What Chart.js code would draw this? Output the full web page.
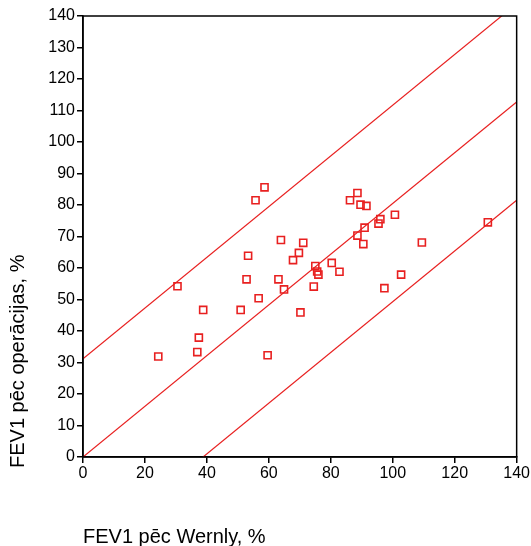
<!DOCTYPE html>
<html>
<head>
<meta charset="utf-8">
<script src="https://cdn.jsdelivr.net/npm/chart.js@4"></script>
<style>
html,body{margin:0;padding:0;background:#fff;}
#wrap{width:531px;height:546px;position:relative;}
</style>
</head>
<body>
<div id="wrap"><canvas id="c" width="531" height="546"></canvas></div>
<script>
// Scatter values
const wernly = [24.3,30.5,36.9,37.4,38.8,50.9,52.8,53.3,55.7,56.7,58.6,59.6,63.1,63.9,64.9,67.8,69.7,70.2,71.1,74.5,75.0,75.6,76.0,80.3,82.8,86.2,88.6,88.6,89.6,90.5,90.9,91.5,95.4,96.0,97.3,100.7,102.7,109.4,130.7];
const operacijas = [31.9,54.2,33.3,37.9,46.7,46.7,56.4,63.9,81.5,50.4,85.6,32.3,56.4,68.9,53.2,62.5,64.8,45.9,68.0,54.1,60.6,58.9,57.9,61.6,58.8,81.5,83.8,70.3,80.1,67.6,72.8,79.7,74.1,75.5,53.6,76.9,57.9,68.1,74.5];
// Reference lines (end points at x = 0 and x = 140)
const lineX = [0, 140];
const midY = [0, 112.7];
const upperY = [31.2, 143.9];
const lowerY = [-31.2, 81.5];
const xTicks = [0,20,40,60,80,100,120,140];
const yTicks = [0,10,20,30,40,50,60,70,80,90,100,110,120,130,140];
const xTitle = 'FEV1 pēc Wernly, %';
const yTitle = 'FEV1 pēc operācijas, %';

const red = 'rgb(232,32,32)';
const pts = wernly.map((v,i)=>({x:v,y:operacijas[i]}));
const mk = ys => lineX.map((v,i)=>({x:v,y:ys[i]}));
const FAM = '"Liberation Sans", Arial, sans-serif';

const frame = {
  id:'frame',
  afterDatasetsDraw(chart){
    const a = chart.chartArea, ctx = chart.ctx;
    ctx.save();
    ctx.strokeStyle='#000'; ctx.lineWidth=1.5;
    ctx.strokeRect(a.left, a.top, a.right-a.left, a.bottom-a.top);
    ctx.restore();
  }
};
const titles = {
  id:'titles',
  afterDraw(chart){
    const a = chart.chartArea, ctx = chart.ctx;
    ctx.save();
    ctx.fillStyle='#000';
    ctx.font = '20px ' + FAM;
    ctx.textBaseline='alphabetic';
    ctx.textAlign='left';
    ctx.fillText(xTitle, a.left, 543);
    ctx.translate(24, a.bottom + 11);
    ctx.rotate(-Math.PI/2);
    ctx.fillText(yTitle, 0, 0);
    ctx.restore();
  }
};

const tickFont = {family:FAM, size:16};

new Chart(document.getElementById('c'), {
  type:'scatter',
  data:{datasets:[
    {type:'line', data:mk(upperY), borderColor:red, borderWidth:1.2, pointRadius:0, fill:false},
    {type:'line', data:mk(midY), borderColor:red, borderWidth:1.2, pointRadius:0, fill:false},
    {type:'line', data:mk(lowerY), borderColor:red, borderWidth:1.2, pointRadius:0, fill:false},
    {data:pts, pointStyle:'rect', pointRadius:5, pointBorderColor:red, pointBackgroundColor:'rgba(0,0,0,0)', pointBorderWidth:1.6, showLine:false}
  ]},
  plugins:[frame, titles],
  options:{
    responsive:false, animation:false,
    layout:{padding:{top:16,right:14,left:0,bottom:0}},
    plugins:{legend:{display:false}, tooltip:{enabled:false}},
    scales:{
      x:{type:'linear', min:0, max:140,
        afterBuildTicks(s){ s.ticks = xTicks.map(v=>({value:v})); },
        afterFit(s){ s.height = 89; },
        grid:{display:true, drawOnChartArea:false, drawTicks:true, tickLength:6, color:'#000', lineWidth:1.5},
        border:{display:true, color:'#000', width:1.5},
        ticks:{color:'#000', font:tickFont, padding:1, maxRotation:0},
        title:{display:false}
      },
      y:{type:'linear', min:0, max:140,
        afterBuildTicks(s){ s.ticks = yTicks.map(v=>({value:v})); },
        afterFit(s){ s.width = 83; },
        grid:{display:true, drawOnChartArea:false, drawTicks:true, tickLength:6, color:'#000', lineWidth:1.5},
        border:{display:true, color:'#000', width:1.5},
        ticks:{color:'#000', font:tickFont, padding:2},
        title:{display:false}
      }
    }
  }
});
</script>
</body>
</html>
